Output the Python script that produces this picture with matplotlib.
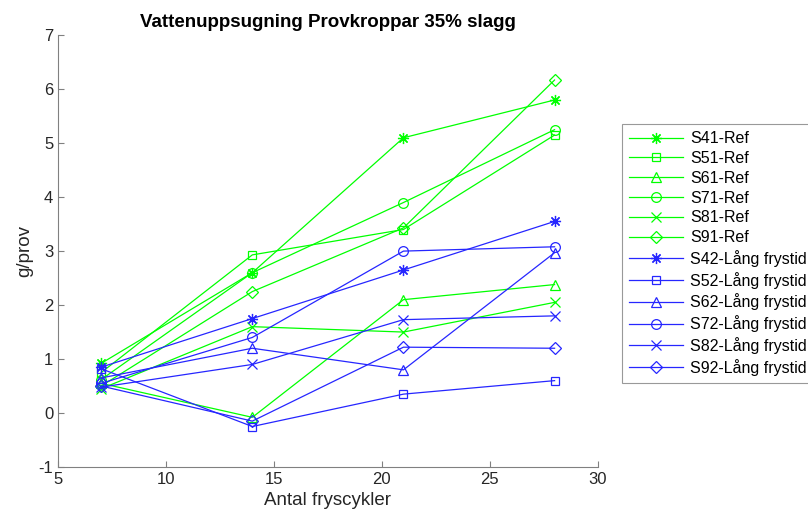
import matplotlib
matplotlib.use("Agg")
import matplotlib.pyplot as plt

plt.rcParams['font.family'] = ['Liberation Sans', 'DejaVu Sans']
plt.rcParams['axes.unicode_minus'] = False

# ---- data ---- #
cycles = [7, 14, 21, 28]

ref_names = ["S41-Ref", "S51-Ref", "S61-Ref", "S71-Ref", "S81-Ref", "S91-Ref"]
ref_values = [
    [0.92, 2.60, 5.10, 5.80],
    [0.75, 2.93, 3.40, 5.15],
    [0.55, -0.08, 2.10, 2.38],
    [0.62, 2.60, 3.90, 5.25],
    [0.45, 1.60, 1.50, 2.05],
    [0.50, 2.25, 3.43, 6.17],
]

lang_names = ["S42-Lång frystid", "S52-Lång frystid", "S62-Lång frystid",
              "S72-Lång frystid", "S82-Lång frystid", "S92-Lång frystid"]
lang_values = [
    [0.85, 1.75, 2.65, 3.55],
    [0.82, -0.25, 0.35, 0.60],
    [0.65, 1.20, 0.80, 2.97],
    [0.55, 1.40, 3.00, 3.08],
    [0.48, 0.90, 1.73, 1.80],
    [0.50, -0.15, 1.22, 1.20],
]

markers = [(8, 2, 0), "s", "^", "o", "x", "D"]
msizes = [8, 6, 7, 7, 7, 6]

fig = plt.figure(figsize=(8.08, 5.24), dpi=100)
ax = fig.add_axes([0.0718, 0.1088, 0.668, 0.824])

for name, vals, m, ms in zip(ref_names, ref_values, markers, msizes):
    ax.plot(cycles, vals, color=(0, 1, 0), lw=0.9, marker=m, ms=ms,
            mfc="none", mew=0.9, label=name)
for name, vals, m, ms in zip(lang_names, lang_values, markers, msizes):
    ax.plot(cycles, vals, color=(0.15, 0.15, 1), lw=0.9, marker=m, ms=ms,
            mfc="none", mew=0.9, label=name)

ax.set_xlim(5, 30)
ax.set_ylim(-1, 7)
ax.set_xticks([5, 10, 15, 20, 25, 30])
ax.set_yticks(range(-1, 8))
for s in ["top", "right"]:
    ax.spines[s].set_visible(False)
for s in ["left", "bottom"]:
    ax.spines[s].set_color("#808080")
ax.tick_params(direction="in", colors="#808080", labelcolor="#262626",
               labelsize=12, length=4)

ax.set_title("Vattenuppsugning Provkroppar 35% slagg", fontsize=13.5,
             fontweight="bold", pad=6)
ax.set_xlabel("Antal fryscykler", fontsize=13.5, color="#262626")
ax.set_ylabel("g/prov", fontsize=13.5, color="#262626")

# legend outside the axes, right side
leg = fig.legend(loc="upper left", bbox_to_anchor=(622 / 808, 1 - 124 / 524),
                 fontsize=11.5, frameon=True, fancybox=False,
                 edgecolor="#808080", handlelength=3.4, handletextpad=0.4,
                 borderpad=0.45, borderaxespad=0, labelspacing=0.30)
leg.get_frame().set_linewidth(0.8)

plt.savefig("out.png", dpi=100)
